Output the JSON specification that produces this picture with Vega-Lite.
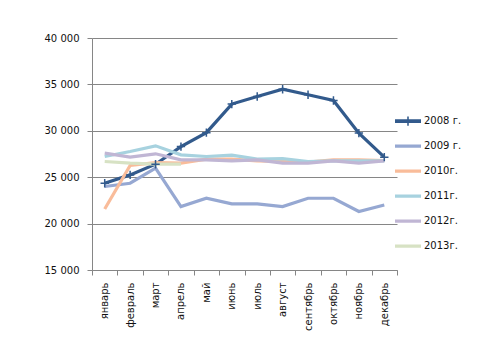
{
  "$schema": "https://vega.github.io/schema/vega-lite/v6.json",
  "width": 305,
  "height": 232,
  "autosize": "none",
  "padding": {"left": 92, "top": 38, "right": 91, "bottom": 94},
  "background": "white",
  "config": {
    "view": {"stroke": null},
    "font": "DejaVu Sans",
    "axis": {"labelFont": "DejaVu Sans", "labelFontSize": 10, "labelColor": "#111", "gridColor": "#868686", "domainColor": "#868686", "tickColor": "#868686", "title": null}
  },
  "data": {"values": [
    {"m": "январь", "y": "2008 г.", "v": 24350},
    {"m": "февраль", "y": "2008 г.", "v": 25250},
    {"m": "март", "y": "2008 г.", "v": 26400},
    {"m": "апрель", "y": "2008 г.", "v": 28300},
    {"m": "май", "y": "2008 г.", "v": 29800},
    {"m": "июнь", "y": "2008 г.", "v": 32880},
    {"m": "июль", "y": "2008 г.", "v": 33700},
    {"m": "август", "y": "2008 г.", "v": 34480},
    {"m": "сентябрь", "y": "2008 г.", "v": 33880},
    {"m": "октябрь", "y": "2008 г.", "v": 33270},
    {"m": "ноябрь", "y": "2008 г.", "v": 29750},
    {"m": "декабрь", "y": "2008 г.", "v": 27160},
    {"m": "январь", "y": "2009 г.", "v": 24000},
    {"m": "февраль", "y": "2009 г.", "v": 24350},
    {"m": "март", "y": "2009 г.", "v": 25970},
    {"m": "апрель", "y": "2009 г.", "v": 21840},
    {"m": "май", "y": "2009 г.", "v": 22730},
    {"m": "июнь", "y": "2009 г.", "v": 22120},
    {"m": "июль", "y": "2009 г.", "v": 22120},
    {"m": "август", "y": "2009 г.", "v": 21840},
    {"m": "сентябрь", "y": "2009 г.", "v": 22730},
    {"m": "октябрь", "y": "2009 г.", "v": 22730},
    {"m": "ноябрь", "y": "2009 г.", "v": 21300},
    {"m": "декабрь", "y": "2009 г.", "v": 22010},
    {"m": "январь", "y": "2010г.", "v": 21580},
    {"m": "февраль", "y": "2010г.", "v": 26260},
    {"m": "март", "y": "2010г.", "v": 26580},
    {"m": "апрель", "y": "2010г.", "v": 26510},
    {"m": "май", "y": "2010г.", "v": 26940},
    {"m": "июнь", "y": "2010г.", "v": 26940},
    {"m": "июль", "y": "2010г.", "v": 26760},
    {"m": "август", "y": "2010г.", "v": 26690},
    {"m": "сентябрь", "y": "2010г.", "v": 26620},
    {"m": "октябрь", "y": "2010г.", "v": 26870},
    {"m": "ноябрь", "y": "2010г.", "v": 26870},
    {"m": "декабрь", "y": "2010г.", "v": 26800},
    {"m": "январь", "y": "2011г.", "v": 27230},
    {"m": "февраль", "y": "2011г.", "v": 27770},
    {"m": "март", "y": "2011г.", "v": 28380},
    {"m": "апрель", "y": "2011г.", "v": 27410},
    {"m": "май", "y": "2011г.", "v": 27230},
    {"m": "июнь", "y": "2011г.", "v": 27370},
    {"m": "июль", "y": "2011г.", "v": 26940},
    {"m": "август", "y": "2011г.", "v": 27010},
    {"m": "сентябрь", "y": "2011г.", "v": 26690},
    {"m": "октябрь", "y": "2011г.", "v": 26760},
    {"m": "ноябрь", "y": "2011г.", "v": 26760},
    {"m": "декабрь", "y": "2011г.", "v": 26760},
    {"m": "январь", "y": "2012г.", "v": 27590},
    {"m": "февраль", "y": "2012г.", "v": 27160},
    {"m": "март", "y": "2012г.", "v": 27520},
    {"m": "апрель", "y": "2012г.", "v": 26870},
    {"m": "май", "y": "2012г.", "v": 26870},
    {"m": "июнь", "y": "2012г.", "v": 26760},
    {"m": "июль", "y": "2012г.", "v": 26870},
    {"m": "август", "y": "2012г.", "v": 26510},
    {"m": "сентябрь", "y": "2012г.", "v": 26510},
    {"m": "октябрь", "y": "2012г.", "v": 26760},
    {"m": "ноябрь", "y": "2012г.", "v": 26510},
    {"m": "декабрь", "y": "2012г.", "v": 26760},
    {"m": "январь", "y": "2013г.", "v": 26690},
    {"m": "февраль", "y": "2013г.", "v": 26510},
    {"m": "март", "y": "2013г.", "v": 26400},
    {"m": "апрель", "y": "2013г.", "v": 26400}
  ]},
  "encoding": {
    "x": {
      "field": "m", "type": "nominal",
      "sort": ["январь","февраль","март","апрель","май","июнь","июль","август","сентябрь","октябрь","ноябрь","декабрь"],
      "scale": {"type": "band", "paddingInner": 0, "paddingOuter": 0},
      "axis": {"labelAngle": 270, "tickBand": "extent", "tickSize": 5, "labelPadding": 7, "grid": false, "domainColor": "#868686"}
    },
    "y": {
      "field": "v", "type": "quantitative",
      "scale": {"domain": [15000, 40000], "nice": false, "zero": false},
      "axis": {"values": [15000, 20000, 25000, 30000, 35000, 40000], "tickSize": 5, "labelPadding": 8, "grid": true, "labelExpr": "replace(format(datum.value, ','), ',', ' ')"}
    }
  },
  "layer": [
    {
      "mark": {"type": "line", "strokeWidth": 3.2},
      "encoding": {
        "color": {
          "field": "y", "type": "nominal",
          "scale": {"domain": ["2008 г.", "2009 г.", "2010г.", "2011г.", "2012г.", "2013г."], "range": ["#325A8C", "#96A8D2", "#F9BC9A", "#A7D2DF", "#C0B6D4", "#D7E2C4"]},
          "legend": {
            "title": null, "orient": "none", "legendX": 303, "legendY": 71,
            "symbolType": "stroke", "symbolSize": 676, "symbolStrokeWidth": 3.5,
            "labelFont": "DejaVu Sans", "labelFontSize": 10, "labelColor": "#111", "labelOffset": 3,
            "clipHeight": 24.2, "rowPadding": 0,
            "encode": {"symbols": {"update": {
              "shape": {"signal": "datum.value === '2008 г.' ? 'M-1,-0.15H1V0.15H-1Z M-0.06,-0.36H0.06V0.36H-0.06Z' : 'M-1,-0.12H1V0.12H-1Z'"},
              "fill": {"scale": "color", "field": "value"},
              "strokeWidth": {"value": 0}
            }}}
          }
        }
      }
    },
    {
      "transform": [{"filter": "datum.y === '2008 г.'"}],
      "mark": {"type": "point", "shape": "M-1,0H1M0,-1V1", "filled": false, "size": 70, "strokeWidth": 1.5, "color": "#325A8C", "opacity": 1}
    }
  ]
}
